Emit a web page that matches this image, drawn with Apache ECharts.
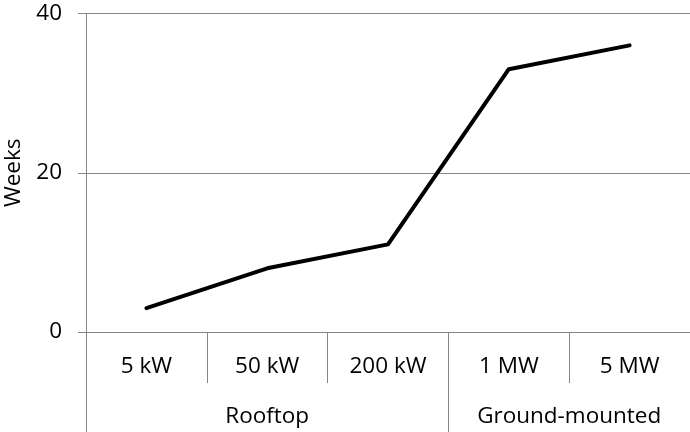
<!DOCTYPE html>
<html>
<head>
<meta charset="utf-8">
<script src="https://cdn.jsdelivr.net/npm/echarts@6/dist/echarts.min.js"></script>
<style>html,body{margin:0;padding:0;background:#fff}#c{width:690px;height:432px}</style>
</head>
<body>
<div id="c"></div>
<script>
var categories = ['5 kW', '50 kW', '200 kW', '1 MW', '5 MW'];
var weeks = [3, 8, 11, 33, 36];
var groups = ['Rooftop', 'Ground-mounted'];
var groupSpans = [[0, 3], [3, 5]];
var yTicks = [0, 20, 40];

var FONT = 'Open Sans';
var FS = 22.5;
var GREY = '#868686';
var groupCenters = groupSpans.map(function (s) { return (s[0] + s[1]) / 2; });
var groupBounds = [0].concat(groupSpans.map(function (s) { return s[1]; }));

var chart = echarts.init(document.getElementById('c'), null, {renderer: 'canvas'});
chart.setOption({
  animation: false,
  backgroundColor: '#fff',
  grid: {left: 86, right: 0, top: 13.5, bottom: 100, containLabel: false, outerBoundsMode: 'none'},
  xAxis: [{
    type: 'category',
    data: categories,
    boundaryGap: true,
    position: 'bottom',
    axisLine: {show: true, lineStyle: {color: GREY, width: 1}},
    axisTick: {show: true, length: 51, lineStyle: {color: GREY}},
    axisLabel: {margin: 23, fontFamily: FONT, fontSize: FS, color: '#000'}
  }, {
    type: 'value',
    min: 0, max: 5,
    position: 'bottom',
    offset: 51,
    axisLine: {show: false},
    splitLine: {show: false},
    axisTick: {show: true, length: 50, customValues: groupBounds, lineStyle: {color: GREY}},
    axisLabel: {
      margin: 22, fontFamily: FONT, fontSize: FS, color: '#000',
      customValues: groupCenters,
      formatter: function (v) {
        var i = groupCenters.indexOf(v);
        return i >= 0 ? groups[i] : '';
      }
    }
  }],
  yAxis: {
    type: 'value',
    min: yTicks[0], max: yTicks[yTicks.length - 1], interval: yTicks[1] - yTicks[0],
    name: 'Weeks',
    nameLocation: 'middle',
    nameRotate: 90,
    nameGap: 60,
    nameTextStyle: {fontFamily: FONT, fontSize: FS, color: '#000'},
    axisLine: {show: true, lineStyle: {color: GREY, width: 1}},
    axisTick: {show: true, length: 8, lineStyle: {color: GREY}},
    splitLine: {show: true, lineStyle: {color: GREY, width: 1}},
    axisLabel: {margin: 24, fontFamily: FONT, fontSize: FS, color: '#000'}
  },
  series: [{
    type: 'line',
    xAxisIndex: 0,
    data: weeks,
    symbol: 'none',
    lineStyle: {color: '#000', width: 4, join: 'round', cap: 'round'},
    itemStyle: {color: '#000'}
  }]
});
</script>
</body>
</html>
